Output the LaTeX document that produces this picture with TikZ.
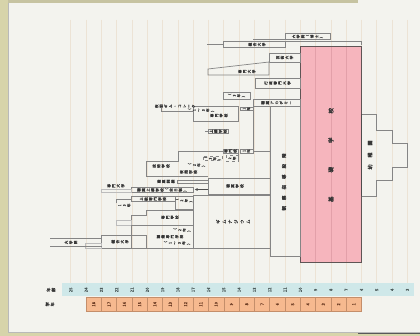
\documentclass[tikz,border=0pt]{standalone}
\usepackage{fontspec}
\setmainfont{Noto Sans CJK JP}
\newfontfamily\heavyjp{Noto Sans CJK JP}[FakeBold=2.5]
\newfontfamily\semijp{Noto Sans CJK JP}[FakeBold=1.2]
\usetikzlibrary{arrows.meta}

\definecolor{paper}{HTML}{F3F3EE}
\definecolor{frame}{HTML}{D7D4AA}
\definecolor{ageline}{HTML}{ECE3D5}
\definecolor{agefill}{HTML}{CFE8E9}
\definecolor{agetext}{HTML}{4C5B5B}
\definecolor{gradefill}{HTML}{F6B98F}
\definecolor{gradeline}{HTML}{C48E6A}
\definecolor{gradetext}{HTML}{6B3B23}
\definecolor{boxline}{HTML}{858585}
\definecolor{pinkfill}{HTML}{F6B5BD}
\definecolor{pinkline}{HTML}{E3A0A9}
\definecolor{pinkborder}{HTML}{5E5555}
\definecolor{inkgray}{HTML}{363636}

\newcommand{\tinyjp}{\semijp\fontsize{3.6}{4.6}\selectfont}
\newcommand{\numjp}{\semijp\fontsize{4.2}{5}\selectfont}

\tikzset{
  schoolbox/.style={draw=boxline, line width=0.7pt},
  faintbox/.style={draw=boxline!55, line width=0.7pt},
  lbl/.style={font=\tinyjp, text=inkgray, inner sep=0pt},
  htxt/.style={lbl, rotate=90, align=center},
  vtxt/.style={lbl, rotate=90},
}

\begin{document}
\begin{tikzpicture}[x=1pt, y=-1pt]
  \useasboundingbox (0,0) rectangle (420,336);
  % ---- frame ----
  \fill[paper] (0,0) rectangle (420,336);
  \fill[frame] (0,0) rectangle (7.5,336);
  \fill[frame!80!gray] (7.5,0) rectangle (358,3);
  \fill[frame] (7.5,332.5) rectangle (420,336);
  \draw[gray!55, line width=0.6pt] (8,3.5) -- (8,332) -- (420,332);
  \draw[black!65, line width=1.2pt] (358,333.2) -- (420,333.2);

  % ---- age grid ----
  \foreach \k in {0,...,22}
    \draw[ageline, line width=0.7pt] ({70.8+15.3*\k},20) -- ({70.8+15.3*\k},283);

  % ---- primary school ----
  \fill[pinkfill] (300.3,46.7) rectangle (361.5,263);
  \foreach \k in {16,17,18}
    \draw[pinkline, line width=0.7pt] ({70.8+15.3*\k},46.7) -- ({70.8+15.3*\k},263);
  \draw[draw=pinkborder, line width=1pt] (300.3,46.7) rectangle (361.5,263);
  \node[vtxt, font=\heavyjp\fontsize{5.5}{6}\selectfont] (kiso) at (330.9,155)
    {基\hspace{24pt}礎\hspace{24pt}学\hspace{24pt}校};

  % ---- kindergarten ----
  \draw[schoolbox] (361.5,114) -- (376.8,114) -- (376.8,130) -- (392.1,130)
    -- (392.1,143.3) -- (407.4,143.3) -- (407.4,167) -- (392.1,167)
    -- (392.1,180) -- (376.8,180) -- (376.8,196.5) -- (361.5,196.5);
  \draw[black!70, line width=1.5pt] (361.5,114) -- (361.5,196.5);
  \node[vtxt, font=\heavyjp\fontsize{5}{6}\selectfont] (yochien) at (370,155)
    {幼\hspace{7pt}稚\hspace{7pt}園};

  % ---- orientation stage ----
  \draw[schoolbox] (270,106.5) rectangle (300.3,256.7);
  \node[vtxt, font=\heavyjp\fontsize{4.5}{5}\selectfont] (kansatsu) at (284,182)
    {観\hspace{6pt}察\hspace{6pt}指\hspace{6pt}導\hspace{6pt}段\hspace{6pt}階};

  % ---- upper rows ----
  \draw[schoolbox] (285,33.5) rectangle (330,39.5);
  \draw[schoolbox] (253,39.5) -- (285,39.5);
  \node[htxt] (gimu) at (307.5,36.5) {大\\学\\院\\（\\博\\士\\）};
  \draw[schoolbox] (223,41.7) rectangle (285,47.3);
  \draw[schoolbox] (285,41.7) -- (361.5,41.7) -- (361.5,45.5);
  \draw[schoolbox] (207,44.5) -- (223,44.5);
  \node[htxt] (sogo) at (257,44.5) {総\\合\\大\\学};
  \draw[schoolbox] (269,53) rectangle (300.3,62);
  \node[htxt] (geijutsu) at (284.6,57.5) {芸\\術\\大\\学};
  \draw[schoolbox] (208,69) -- (269,62) -- (269,75) -- (208,75) -- cycle;
  \node[htxt] (senmondai) at (247,71.5) {専\\門\\大\\学};
  \draw[schoolbox] (255,78) rectangle (300.3,88);
  \node[htxt] (gyosei) at (277.6,83) {行\\政\\専\\門\\大\\学};
  \draw[schoolbox] (223,92) rectangle (250,99);
  \node[htxt] (sannen) at (236.5,95.5) {（\\3\\年\\）};
  \draw[schoolbox] (253,99) rectangle (300.3,106.5);
  \node[htxt] (academy) at (276.6,102.8) {職\\業\\ア\\カ\\デ\\ミ\\ー};

  % ---- technical schools ----
  \draw[schoolbox] (193,106.5) rectangle (238,121.7);
  \node[htxt] (fach1) at (201,110.2) {（\\1\\〜\\3\\年\\）};
  \node[htxt] (fach) at (219,115.5) {専\\門\\学\\校};
  \draw[schoolbox] (240,107) rectangle (253,110.5);
  \node[htxt] (ichinen) at (246.5,108.8) {1\\年};
  \node[htxt] (yakan) at (175,106.2) {夜\\間\\ギ\\ム\\・\\コ\\レ\\ー\\ク};
  \draw[schoolbox] (161.7,108.5) -- (161.7,111.7) -- (193,111.7);
  \draw[schoolbox] (253,106.5) -- (253,151.7);
  \draw[schoolbox] (208,129.3) rectangle (228.3,133.3);
  \draw[schoolbox] (205,131.3) -- (208,131.3);
  \node[htxt] (aufbau) at (218.2,131.3) {上\\構\\学\\校};
  \draw[schoolbox] (223,149) rectangle (238,153);
  \node[htxt] (fachkurz) at (230.5,151) {専\\門\\校};
  \draw[schoolbox] (240,149) rectangle (253,153);
  \node[htxt] (ichinen2) at (246.5,151) {1\\年};
  \draw[schoolbox] (253,151.7) -- (270,151.7);

  % ---- middle block ----
  \draw[schoolbox] (146.7,176.7) -- (146.7,161.7) -- (178.3,161.7) -- (178.3,151.7)
    -- (223,151.7);
  \draw[schoolbox] (238,151.7) -- (238,161.7);
  \draw[schoolbox] (146.7,176.7) -- (208,176.7);
  \node[htxt] (gijutsu) at (161,166) {技\\術\\学\\校};
  \node[htxt] (ninen) at (196.5,165) {（\\2\\年\\）};
  \node[htxt] (yakan2) at (188.5,172) {夜\\間\\学\\校};
  \draw[schoolbox, dashed] (203,156.7) rectangle (222,160.5);
  \node[htxt] (sannen2) at (212.5,158.6) {（\\3\\年\\）};
  \draw[schoolbox, dashed] (226.7,155) rectangle (238,161.7);
  \node[htxt] (ninen2) at (232.3,158.3) {2\\年};
  \draw[schoolbox] (208,178) rectangle (270,194);
  \node[htxt] (beruf) at (235,186) {職\\業\\学\\校};
  \draw[schoolbox] (177,180) rectangle (208,183);
  \node[htxt] (kunren) at (166,181.5) {職\\業\\訓\\練};
  \draw[black!70, line width=0.6pt, -{Latex[length=3pt,width=3pt]}] (208,189.5) -- (194.5,189.5);
  \draw[schoolbox] (131.7,187.3) rectangle (193,192.7);
  \node[htxt] (bos) at (162,190) {職\\業\\上\\構\\学\\校\\（\\全\\日\\制\\）};
  \draw[faintbox] (101.7,189) rectangle (131.7,192.7);
  \node[htxt] (fhlabel) at (116,185.8) {専\\門\\大\\学};
  \draw[schoolbox] (131.7,196.5) rectangle (175,201.5);
  \node[htxt] (fos) at (153,199) {上\\級\\専\\門\\学\\校};
  \draw[schoolbox] (175,196.5) rectangle (193,209.3);
  \node[htxt] (ninen3) at (184,200.5) {（\\2\\年\\）};
  \draw[schoolbox] (116.7,203.3) -- (116.7,199.3) -- (131.7,199.3);
  \node[htxt] (junen) at (124.5,205.3) {1\\3\\年};
  \draw[schoolbox] (146.7,210) -- (193,210) -- (193,225) -- (131.7,225)
    -- (131.7,215) -- (146.7,215) -- cycle;
  \node[htxt] (fach2) at (170,217.3) {専\\門\\学\\校};
  \draw[faintbox] (116.7,220.7) rectangle (131.7,225);
  \draw[schoolbox] (131.7,225) rectangle (193,248.3);
  \node[htxt] (ninen4) at (182,230) {（\\2\\年\\）};
  \node[htxt] (bfs) at (170,236.7) {職\\業\\専\\門\\学\\校};
  \node[htxt] (sannen3) at (177,243) {（\\1\\〜\\3\\年\\）};
  \draw[schoolbox] (193,195) rectangle (270,248.3);
  \node[htxt, font=\semijp\fontsize{4.2}{6}\selectfont] (gym) at (233,221.7) {ギ\\ム\\ナ\\ジ\\ウ\\ム};

  % ---- university ----
  \draw[schoolbox] (101.7,235) rectangle (146.7,248.3);
  \node[htxt] (uni) at (120,241.7) {総\\合\\大\\学};
  \draw[faintbox] (85,243.3) rectangle (101.7,248.3);
  \draw[schoolbox] (50,238) -- (101.7,238);
  \draw[schoolbox] (50,246.7) -- (101.7,246.7);
  \node[htxt] (grad) at (71,242.4) {大\\学\\院};

  % ---- age / grade rows ----
  \fill[agefill] (62,283) rectangle (414,296.5);
  \foreach \k in {0,...,22}{
    \pgfmathtruncatemacro\age{25-\k}
    \node[vtxt, font=\numjp, text=agetext] (age\k) at ({70.8+15.3*\k},289.8) {\age};
  }
  \foreach \k in {1,...,18}{
    \pgfmathtruncatemacro\grade{19-\k}
    \draw[draw=gradeline, fill=gradefill, line width=0.5pt]
      ({70.8+15.3*\k},297.5) rectangle ({70.8+15.3*(\k+1)},311);
    \node[vtxt, font=\numjp, text=gradetext] (grade\k) at ({70.8+15.3*(\k+0.5)},304.3) {\grade};
  }
  \node[htxt, font=\numjp] (agehead) at (51,289.8) {年\\齢};
  \node[htxt, font=\numjp] (gradehead) at (50,304.3) {学\\年};
\end{tikzpicture}
\end{document}
